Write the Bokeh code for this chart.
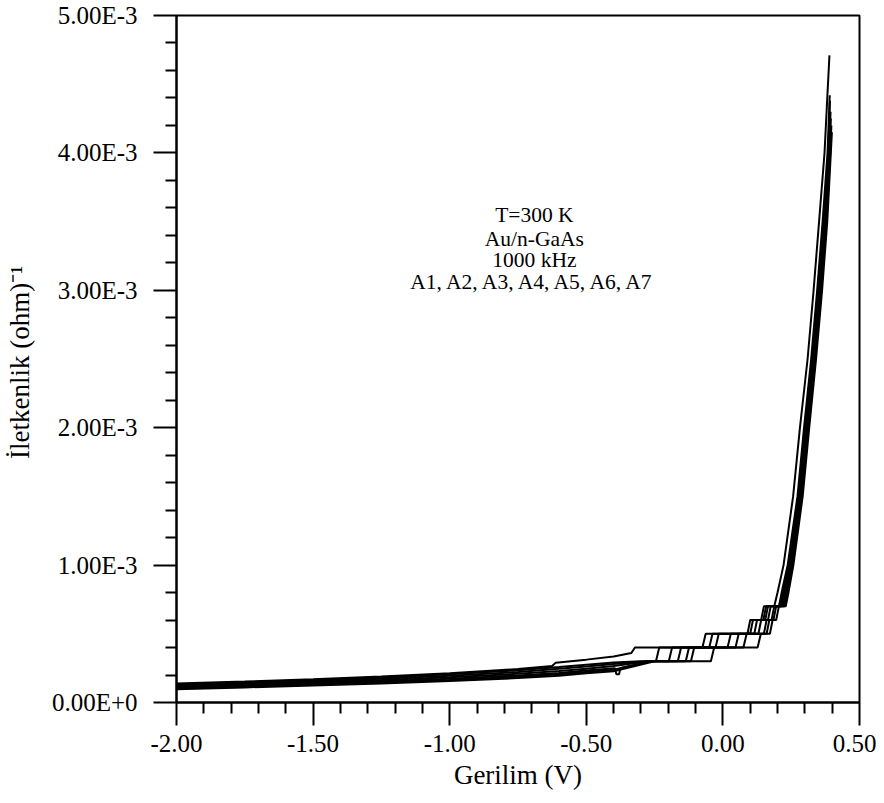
from bokeh.plotting import figure
from bokeh.models import FixedTicker, Label, Range1d
from bokeh.embed import file_html
from bokeh.resources import INLINE

# ---------------- data ----------------
# Voltage (V) and conductance (ohm^-1) for samples A1..A7
v_A1 = [-2.00, -1.75, -1.50, -1.25, -1.00, -0.75, -0.625, -0.612, -0.50, -0.40, -0.335, -0.322,
        -0.075, -0.063, 0.090, 0.100, 0.140, 0.150, 0.188, 0.200, 0.222, 0.257, 0.282, 0.310,
        0.332, 0.352, 0.372, 0.382, 0.390]
g_A1 = [0.138e-3, 0.152e-3, 0.170e-3, 0.190e-3, 0.213e-3, 0.243e-3, 0.265e-3, 0.290e-3, 0.312e-3,
        0.335e-3, 0.360e-3, 0.400e-3, 0.400e-3, 0.500e-3, 0.500e-3, 0.600e-3, 0.600e-3, 0.700e-3,
        0.700e-3, 0.800e-3, 1.000e-3, 1.500e-3, 2.000e-3, 2.500e-3, 3.000e-3, 3.500e-3, 4.000e-3,
        4.400e-3, 4.710e-3]

v_A2 = [-2.00, -1.75, -1.50, -1.25, -1.00, -0.75, -0.60, -0.50, -0.40, -0.30, -0.245, -0.233,
        -0.050, -0.038, 0.100, 0.110, 0.148, 0.158, 0.205, 0.215, 0.237, 0.273, 0.297, 0.323,
        0.345, 0.365, 0.383, 0.391]
g_A2 = [0.132e-3, 0.147e-3, 0.163e-3, 0.182e-3, 0.205e-3, 0.235e-3, 0.258e-3, 0.275e-3, 0.292e-3,
        0.300e-3, 0.300e-3, 0.400e-3, 0.400e-3, 0.500e-3, 0.500e-3, 0.600e-3, 0.600e-3, 0.700e-3,
        0.700e-3, 0.800e-3, 1.000e-3, 1.500e-3, 2.000e-3, 2.500e-3, 3.000e-3, 3.500e-3, 4.000e-3,
        4.420e-3]

v_A3 = [-2.00, -1.75, -1.50, -1.25, -1.00, -0.75, -0.60, -0.50, -0.40, -0.28, -0.198, -0.186,
        -0.027, -0.015, 0.115, 0.125, 0.155, 0.165, 0.210, 0.220, 0.241, 0.277, 0.301, 0.327,
        0.349, 0.369, 0.386, 0.392]
g_A3 = [0.125e-3, 0.139e-3, 0.155e-3, 0.173e-3, 0.194e-3, 0.222e-3, 0.245e-3, 0.262e-3, 0.280e-3,
        0.300e-3, 0.300e-3, 0.400e-3, 0.400e-3, 0.500e-3, 0.500e-3, 0.600e-3, 0.600e-3, 0.700e-3,
        0.700e-3, 0.800e-3, 1.000e-3, 1.500e-3, 2.000e-3, 2.500e-3, 3.000e-3, 3.500e-3, 4.000e-3,
        4.380e-3]

v_A4 = [-2.00, -1.75, -1.50, -1.25, -1.00, -0.75, -0.60, -0.50, -0.40, -0.27, -0.165, -0.153,
        0.017, 0.029, 0.130, 0.140, 0.165, 0.175, 0.215, 0.225, 0.245, 0.281, 0.305, 0.331,
        0.353, 0.372, 0.389, 0.394]
g_A4 = [0.117e-3, 0.131e-3, 0.146e-3, 0.163e-3, 0.183e-3, 0.209e-3, 0.229e-3, 0.246e-3, 0.265e-3,
        0.300e-3, 0.300e-3, 0.400e-3, 0.400e-3, 0.500e-3, 0.500e-3, 0.600e-3, 0.600e-3, 0.700e-3,
        0.700e-3, 0.800e-3, 1.000e-3, 1.500e-3, 2.000e-3, 2.500e-3, 3.000e-3, 3.500e-3, 4.000e-3,
        4.300e-3]

v_A5 = [-2.00, -1.75, -1.50, -1.25, -1.00, -0.75, -0.60, -0.50, -0.395, -0.390, -0.380, -0.375,
        -0.26, -0.136, -0.124, 0.046, 0.058, 0.150, 0.160, 0.178, 0.188, 0.220, 0.230, 0.250,
        0.285, 0.310, 0.335, 0.357, 0.376, 0.391, 0.395]
g_A5 = [0.110e-3, 0.124e-3, 0.139e-3, 0.155e-3, 0.173e-3, 0.197e-3, 0.215e-3, 0.233e-3, 0.250e-3,
        0.205e-3, 0.205e-3, 0.252e-3, 0.300e-3, 0.300e-3, 0.400e-3, 0.400e-3, 0.500e-3, 0.500e-3,
        0.600e-3, 0.600e-3, 0.700e-3, 0.700e-3, 0.800e-3, 1.000e-3, 1.500e-3, 2.000e-3, 2.500e-3,
        3.000e-3, 3.500e-3, 4.000e-3, 4.250e-3]

v_A6 = [-2.00, -1.75, -1.50, -1.25, -1.00, -0.75, -0.60, -0.50, -0.40, -0.26, -0.117, -0.105,
        0.075, 0.087, 0.160, 0.170, 0.185, 0.195, 0.225, 0.235, 0.254, 0.289, 0.313, 0.338,
        0.360, 0.379, 0.393, 0.397]
g_A6 = [0.103e-3, 0.117e-3, 0.131e-3, 0.147e-3, 0.164e-3, 0.187e-3, 0.205e-3, 0.222e-3, 0.238e-3,
        0.300e-3, 0.300e-3, 0.400e-3, 0.400e-3, 0.500e-3, 0.500e-3, 0.600e-3, 0.600e-3, 0.700e-3,
        0.700e-3, 0.800e-3, 1.000e-3, 1.500e-3, 2.000e-3, 2.500e-3, 3.000e-3, 3.500e-3, 4.000e-3,
        4.200e-3]

v_A7 = [-2.00, -1.75, -1.50, -1.25, -1.00, -0.75, -0.60, -0.50, -0.40, -0.25, -0.044, -0.032,
        0.127, 0.139, 0.172, 0.182, 0.195, 0.205, 0.230, 0.240, 0.258, 0.292, 0.316, 0.341,
        0.363, 0.382, 0.395, 0.399]
g_A7 = [0.096e-3, 0.110e-3, 0.124e-3, 0.139e-3, 0.156e-3, 0.178e-3, 0.195e-3, 0.212e-3, 0.228e-3,
        0.300e-3, 0.300e-3, 0.400e-3, 0.400e-3, 0.500e-3, 0.500e-3, 0.600e-3, 0.600e-3, 0.700e-3,
        0.700e-3, 0.800e-3, 1.000e-3, 1.500e-3, 2.000e-3, 2.500e-3, 3.000e-3, 3.500e-3, 4.000e-3,
        4.150e-3]

series_v = [v_A1, v_A2, v_A3, v_A4, v_A5, v_A6, v_A7]
series_g = [g_A1, g_A2, g_A3, g_A4, g_A5, g_A6, g_A7]

x_ticks = [-2.0, -1.5, -1.0, -0.5, 0.0, 0.5]
x_tick_labels = ["-2.00", "-1.50", "-1.00", "-0.50", "0.00", "0.50"]
x_minor = [-1.9, -1.8, -1.7, -1.6, -1.4, -1.3, -1.2, -1.1, -0.9, -0.8, -0.7, -0.6,
           -0.4, -0.3, -0.2, -0.1, 0.1, 0.2, 0.3, 0.4]
y_ticks = [0.0, 1e-3, 2e-3, 3e-3, 4e-3, 5e-3]
y_tick_labels = ["0.00E+0", "1.00E-3", "2.00E-3", "3.00E-3", "4.00E-3", "5.00E-3"]
y_minor = [0.2e-3, 0.4e-3, 0.6e-3, 0.8e-3, 1.2e-3, 1.4e-3, 1.6e-3, 1.8e-3,
           2.2e-3, 2.4e-3, 2.6e-3, 2.8e-3, 3.2e-3, 3.4e-3, 3.6e-3, 3.8e-3,
           4.2e-3, 4.4e-3, 4.6e-3, 4.8e-3]

note_lines = ["T=300 K", "Au/n-GaAs", "1000 kHz", "A1, A2, A3, A4, A5, A6, A7"]

# ---------------- figure ----------------
FONT = "Liberation Serif"
p = figure(width=876, height=800,
           x_range=Range1d(-2.0, 0.5), y_range=Range1d(0.0, 5e-3),
           output_backend="svg", toolbar_location=None,
           min_border_left=176, min_border_top=15, min_border_right=17, min_border_bottom=98,
           x_axis_label="Gerilim (V)", y_axis_label="İletkenlik  (ohm)⁻¹")

p.grid.visible = False
p.outline_line_color = "black"
p.outline_line_width = 2
p.outline_line_alpha = 1.0

for vs, gs in zip(series_v, series_g):
    p.line(vs, gs, line_color="black", line_width=2)

xa = p.xaxis[0]
ya = p.yaxis[0]
xa.ticker = FixedTicker(ticks=x_ticks, minor_ticks=x_minor)
ya.ticker = FixedTicker(ticks=y_ticks, minor_ticks=y_minor)
xa.major_label_overrides = {t: s for t, s in zip(x_ticks, x_tick_labels)}
ya.major_label_overrides = {t: s for t, s in zip(y_ticks, y_tick_labels)}

for ax in (xa, ya):
    ax.axis_line_width = 2
    ax.axis_line_color = "black"
    ax.major_tick_line_width = 2
    ax.minor_tick_line_width = 2
    ax.major_tick_line_color = "black"
    ax.minor_tick_line_color = "black"
    ax.major_tick_out = 23
    ax.major_tick_in = 0
    ax.minor_tick_out = 11
    ax.minor_tick_in = 0
    ax.major_label_text_font = FONT
    ax.major_label_text_font_size = "25px"
    ax.major_label_text_color = "black"
    ax.axis_label_text_font = FONT
    ax.axis_label_text_font_size = "27px"
    ax.axis_label_text_font_style = "normal"
    ax.axis_label_text_color = "black"

xa.major_label_standoff = 9
xa.axis_label_standoff = 5
ya.major_label_standoff = 16
ya.axis_label_standoff = 14

note_y = [3.545e-3, 3.377e-3, 3.217e-3, 3.057e-3]
for txt, yy in zip(note_lines, note_y):
    p.add_layout(Label(x=-0.69, y=yy, text=txt, text_align="center", text_baseline="middle",
                       text_font=FONT, text_font_size="21.5px", text_color="black"))

open("out.html", "w").write(file_html(p, INLINE))
